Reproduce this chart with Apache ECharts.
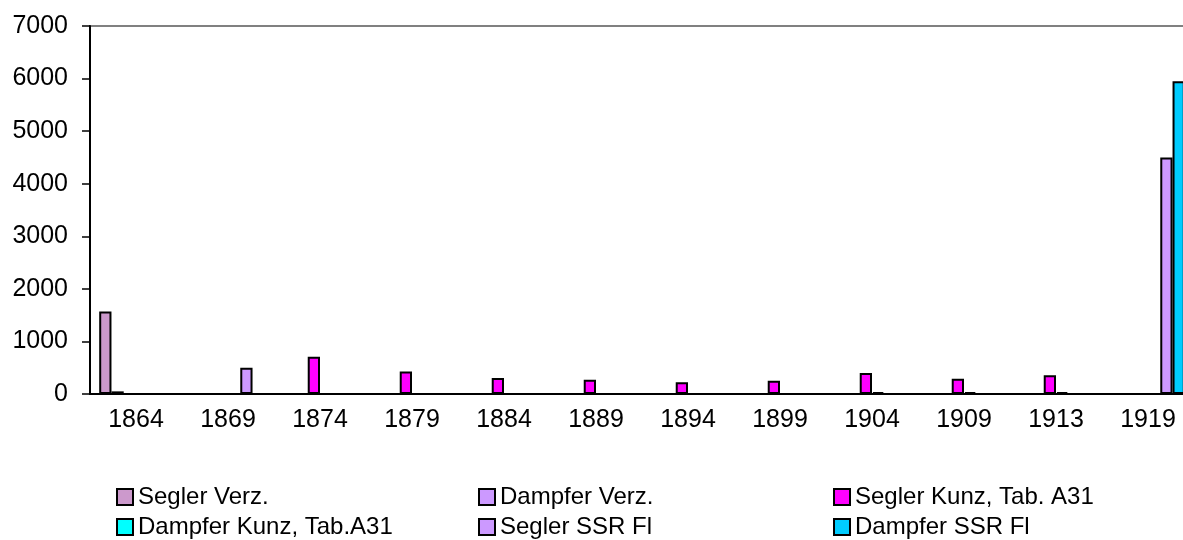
<!DOCTYPE html>
<html>
<head>
<meta charset="utf-8">
<script src="https://cdn.jsdelivr.net/npm/echarts@6/dist/echarts.min.js"></script>
<style>
  body { margin: 0; background: #fff; }
</style>
</head>
<body>
<div id="chart" style="width: 1183px; height: 540px;"></div>
<script>
const years = ['1864', '1869', '1874', '1879', '1884', '1889', '1894', '1899', '1904', '1909', '1913', '1919'];
const yTicks = [0, 1000, 2000, 3000, 4000, 5000, 6000, 7000];

const seglerVerz = [1570, null, null, null, null, null, null, null, null, null, null, null];
const dampferVerz = [50, null, null, null, null, null, null, null, null, null, null, null];
const seglerKunz = [null, null, 710, 430, 305, 272, 222, 253, 400, 290, 355, null];
const dampferKunz = [null, null, null, null, null, null, null, null, 35, 35, 35, null];
const seglerSSR = [null, 500, null, null, null, null, null, null, null, null, null, 4500];
const dampferSSR = [null, null, null, null, null, null, null, null, null, null, null, 5950];

const font = 'Liberation Sans, Arial, sans-serif';

function bar(name, data, color) {
  return {
    name: name,
    type: 'bar',
    data: data,
    barGap: '0%',
    barCategoryGap: '20%',
    itemStyle: { color: color, borderColor: '#000', borderWidth: 2 }
  };
}

// one legend per entry, excel puts them in an uneven 3x2 table
function legendItem(left, top, name) {
  return {
    left: left,
    top: top,
    padding: 0,
    itemWidth: 16,
    itemHeight: 16,
    icon: 'rect',
    data: [name],
    itemStyle: { borderColor: '#000', borderWidth: 2 },
    textStyle: { color: '#000', fontSize: 24, lineHeight: 24, fontFamily: font }
  };
}

var myChart = echarts.init(document.getElementById('chart'));

var option = {
  animation: false,
  backgroundColor: '#fff',
  grid: {
    left: 90,
    width: 1104, // plot runs past the right edge, the original is cropped
    top: 26,
    bottom: 146,
    outerBoundsMode: 'none',
    show: true,
    borderColor: '#808080',
    borderWidth: 2
  },
  legend: [
    legendItem(116, 485, 'Segler Verz.'),
    legendItem(478, 485, 'Dampfer Verz.'),
    legendItem(833, 485, 'Segler Kunz, Tab. A31'),
    legendItem(116, 515, 'Dampfer Kunz, Tab.A31'),
    legendItem(478, 515, 'Segler SSR Fl'),
    legendItem(833, 515, 'Dampfer SSR Fl')
  ],
  xAxis: {
    type: 'category',
    data: years,
    axisLine: { lineStyle: { color: '#000', width: 2 } },
    axisTick: { length: 8, lineStyle: { color: '#000', width: 1.5 } },
    axisLabel: { color: '#000', fontSize: 25, margin: 14, fontFamily: font, interval: 0 }
  },
  yAxis: {
    type: 'value',
    min: yTicks[0],
    max: yTicks[yTicks.length - 1],
    interval: 1000,
    splitLine: { show: false },
    axisLine: { show: true, lineStyle: { color: '#000', width: 2 } },
    axisTick: { show: true, length: 8, lineStyle: { color: '#000', width: 1.5 } },
    axisLabel: {
      color: '#000',
      fontSize: 25,
      margin: 22,
      fontFamily: font,
      formatter: function (v) { return String(v); }
    }
  },
  series: [
    bar('Segler Verz.', seglerVerz, '#cc99cc'),
    bar('Dampfer Verz.', dampferVerz, '#cc99ff'),
    bar('Segler Kunz, Tab. A31', seglerKunz, '#ff00ff'),
    bar('Dampfer Kunz, Tab.A31', dampferKunz, '#00ffff'),
    bar('Segler SSR Fl', seglerSSR, '#cc99ff'),
    bar('Dampfer SSR Fl', dampferSSR, '#00ccff')
  ]
};

myChart.setOption(option);
</script>
</body>
</html>
